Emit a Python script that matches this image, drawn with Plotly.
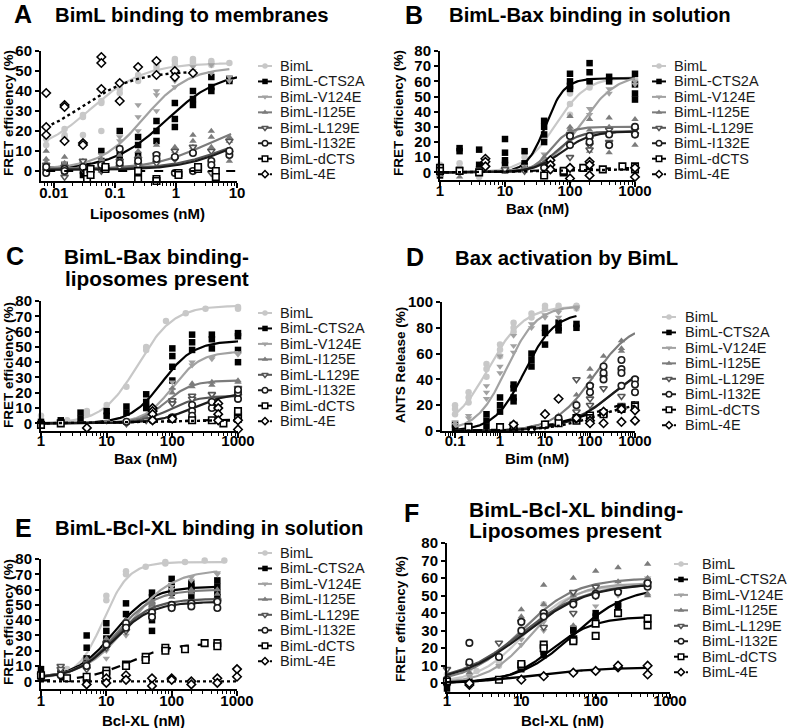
import numpy as np
import plotly.graph_objects as go

W, H = 791, 728
FONT = "Liberation Sans"

SERIES = ["BimL", "BimL-CTS2A", "BimL-V124E", "BimL-I125E",
          "BimL-L129E", "BimL-I132E", "BimL-dCTS", "BimL-4E"]

# ---------------- data ----------------
# points: series -> list of (concentration, [replicate values])
# fits:   series -> (bottom, top, EC50, hill, xmin, xmax)  (fitted curve parameters)

A_points = {
    "BimL": [(0.0075, [16, 18, 13]), (0.015, [21, 18, 17]), (0.03, [28, 18, 27]), (0.06, [35, 20, 34]),
             (0.12, [43, 41, 39]), (0.24, [47, 48, 45]), (0.48, [54, 52, 50]), (0.96, [56, 55, 53]),
             (1.9, [56, 55, 54]), (3.8, [55, 54, 53]), (7.5, [54])],
    "BimL-CTS2A": [(0.0075, [2, 1]), (0.015, [3, 1, 0]), (0.03, [0, -2, 4]), (0.06, [10, 5, 2]),
                   (0.12, [20, 8, 5]), (0.24, [17, 13, 8]), (0.48, [25, 20, 15]), (0.96, [34, 26, 22]),
                   (1.9, [40, 36, 33]), (3.8, [47, 42, 40]), (7.5, [46, 45])],
    "BimL-V124E": [(0.0075, [5, 2]), (0.015, [4, 1]), (0.03, [2, 3]), (0.06, [8, 5]), (0.12, [15, 17, 12]),
                   (0.24, [33, 27, 20]), (0.48, [40, 38, 30]), (0.96, [45, 47, 42]), (1.9, [52, 50, 48]),
                   (3.8, [53, 49]), (7.5, [45, 47])],
    "BimL-I125E": [(0.0075, [10, 6, 4]), (0.015, [7, 4]), (0.03, [5, 1]), (0.06, [6, 0]), (0.12, [12, 8, 5]),
                   (0.24, [10, 7]), (0.48, [13, 8, 5]), (0.96, [12, 10, 7]), (1.9, [18, 15, 12]),
                   (3.8, [20, 17, 12]), (7.5, [17, 15, 5])],
    "BimL-L129E": [(0.0075, [3, 0]), (0.015, [2, -3]), (0.03, [5, 1]), (0.06, [3, 0]), (0.12, [5, 2]),
                   (0.24, [6, 3]), (0.48, [8, 4]), (0.96, [10, 6]), (1.9, [12, 0]), (3.8, [10, -1]),
                   (7.5, [9, 15])],
    "BimL-I132E": [(0.0075, [-1, 2]), (0.015, [1, 0]), (0.03, [2]), (0.06, [3]), (0.12, [11, 4]),
                   (0.24, [5]), (0.48, [8, 6]), (0.96, [-1, 7]), (1.9, [0, 9]), (3.8, [5, 3]), (7.5, [8, 10])],
    "BimL-dCTS": [(0.035, [-1, -4]), (0.04, [1, -2]), (0.07, [1, 2]), (0.24, [0, -4]), (0.48, [-4, -5]),
                  (1.1, [-1, -2]), (2.3, [1, 2]), (4.5, [0, -3])],
    "BimL-4E": [(0.0075, [39, 22, 18]), (0.015, [33, 32, 15]), (0.03, [14, 13]), (0.06, [57, 54, 41]),
                (0.12, [44, 35]), (0.24, [52]), (0.48, [55, 48]), (0.96, [50, 47]), (1.9, [49])],
}
A_fits = {
    "BimL": (8, 54, 0.04, 1.0, 0.0075, 7.5),
    "BimL-CTS2A": (1, 50, 0.7, 1.0, 0.0075, 10),
    "BimL-V124E": (1, 52, 0.3, 1.2, 0.0075, 7.5),
    "BimL-I125E": (1, 25, 3, 1.0, 0.0075, 8),
    "BimL-L129E": (1, 20, 6, 1.0, 0.0075, 8),
    "BimL-I132E": (0.5, 22, 8, 1.0, 0.0075, 8),
    "BimL-dCTS": (0, 0, 1, 1.0, 0.0075, 10),
    "BimL-4E": (15, 50, 0.03, 1.0, 0.0075, 1.9),
}

B_points = {
    "BimL": [(1, [5, 2]), (2, [6, 3, 1]), (4, [4, 1, -3]), (10, [8, 3]), (20, [13, 10]), (40, [25, 22]),
             (100, [52, 45, 38]), (200, [60, 56]), (400, [62, 60]), (1000, [62, 60])],
    "BimL-CTS2A": [(1, [3, 0, -2]), (2, [16, 14]), (4, [15, 5, 2]), (10, [22, 13, 8, 5]), (20, [14, 6, 4]),
                   (40, [34, 30, 25, 20]), (100, [65, 60, 57, 55]), (200, [72, 66, 60]), (400, [63, 60]),
                   (1000, [65, 58, 52, 48])],
    "BimL-V124E": [(1, [2, 0]), (2, [3]), (4, [2]), (10, [3]), (20, [4]), (40, [12, 8]), (100, [28, 25]),
                   (200, [42, 38]), (400, [55, 52]), (1000, [60, 58])],
    "BimL-I125E": [(1, [1, -2]), (2, [0, -3]), (4, [1]), (10, [2, 0]), (20, [3, 1]), (40, [10, 6, 4]),
                   (100, [37, 30, 28]), (200, [35, 28, 14]), (400, [36, 30, 13]), (1000, [35, 30, 18])],
    "BimL-L129E": [(10, [2]), (20, [1]), (40, [5]), (100, [10, 25]), (200, [18, 15, 22]), (400, [20, 28]),
                   (1000, [28, 25])],
    "BimL-I132E": [(40, [3]), (100, [18, 24]), (200, [24, 20]), (400, [18, 25]), (1000, [25, 30])],
    "BimL-dCTS": [(1, [3, 1]), (2, [1]), (4, [0]), (40, [-2]), (80, [0, 1]), (160, [3]), (320, [2]),
                  (640, [4]), (1000, [4, 2])],
    "BimL-4E": [(5, [9, 7, 4]), (50, [8, 5, 2]), (100, [3, -4]), (200, [7, 5, -2]), (1000, [3, -3])],
}
B_fits = {
    "BimL": (0, 63, 60, 1.8, 1, 1000),
    "BimL-CTS2A": (0, 62, 42, 3.0, 1, 1000),
    "BimL-V124E": (0, 65, 150, 1.6, 1, 1000),
    "BimL-I125E": (0, 30, 50, 3.0, 1, 1000),
    "BimL-L129E": (0, 27, 60, 2.5, 1, 1000),
    "BimL-I132E": (0, 27, 75, 2.0, 1, 1000),
    "BimL-dCTS": (0, 3, 50, 1.0, 1, 1000),
    "BimL-4E": (0, 2, 30, 1.0, 1, 1000),
}

C_points = {
    "BimL": [(1, [5]), (2, [2]), (2.5, [2]), (5, [8, 6]), (10, [12]), (20, [24]), (40, [50, 48]),
             (80, [67]), (160, [72]), (320, [75]), (1000, [76, 75])],
    "BimL-CTS2A": [(1, [1, -1]), (2, [2]), (4, [7, 3]), (10, [8, 5]), (20, [11, 7]), (40, [19, 14, 10]),
                   (100, [49, 44, 37, 28]), (200, [58, 53, 48]), (400, [58, 55, 49]), (1000, [59, 57, 48, 40])],
    "BimL-V124E": [(1, [0]), (10, [1]), (40, [3]), (100, [27, 22]), (200, [38, 40]), (400, [43, 42]),
                   (1000, [45, 46])],
    "BimL-I125E": [(2, [0]), (20, [0]), (40, [4]), (100, [23, 20]), (200, [26, 24]), (400, [27, 25]),
                   (1000, [28, 27])],
    "BimL-L129E": [(20, [0]), (40, [2]), (100, [15, 13]), (200, [18, 16]), (400, [19, 14]), (1000, [23, 18])],
    "BimL-I132E": [(20, [1]), (50, [2]), (100, [3, 4]), (200, [12, 8, 5]), (400, [10, 14]),
                   (1000, [16, 20, 22])],
    "BimL-dCTS": [(1, [-1]), (2, [0]), (100, [3]), (200, [2]), (400, [2]), (600, [0]), (1000, [5, 8, 3])],
    "BimL-4E": [(5, [-3]), (50, [10, 8, 6, 2]), (100, [3]), (500, [13, 10, 6, 2]), (1000, [-4, 2])],
}
C_fits = {
    "BimL": (0, 77, 30, 1.6, 1, 1000),
    "BimL-CTS2A": (0, 54, 70, 1.8, 1, 1000),
    "BimL-V124E": (0, 47, 100, 2.0, 1, 1000),
    "BimL-I125E": (0, 28, 80, 2.2, 1, 1000),
    "BimL-L129E": (0, 18, 90, 2.0, 1, 1000),
    "BimL-I132E": (0, 20, 200, 1.6, 1, 1000),
    "BimL-dCTS": (0, 2.5, 50, 1.0, 1, 1000),
    "BimL-4E": (0, 2, 40, 1.0, 1, 1000),
}

D_points = {
    "BimL": [(0.1, [20, 17, 13]), (0.2, [30, 26, 22]), (0.5, [52, 48, 42]), (1, [67, 63, 58]),
             (2, [84, 80, 77]), (5, [91, 88]), (10, [97, 95]), (20, [97, 95]), (50, [97, 95])],
    "BimL-CTS2A": [(0.1, [5, 2]), (0.2, [4, 2]), (0.5, [13, 8, 3]), (1, [26, 20, 15]), (2, [36, 33, 26, 23]),
                   (5, [60, 55, 50]), (10, [80, 76, 67]), (20, [84, 80, 78]), (50, [83, 80])],
    "BimL-V124E": [(0.1, [7, 5]), (0.2, [12, 10]), (0.5, [35, 30, 25]), (1, [58, 50, 45]), (2, [74, 66, 61]),
                   (5, [83, 80]), (10, [90, 88]), (20, [92, 88]), (50, [96, 95])],
    "BimL-I125E": [(0.2, [0]), (1, [1]), (5, [2]), (10, [5, 3]), (20, [12, 10]), (50, [28, 22]),
                   (100, [48, 42, 35]), (200, [58, 52, 45]), (500, [70, 64, 62])],
    "BimL-L129E": [(5, [2]), (10, [4]), (20, [8]), (50, [40, 15]), (100, [35, 25, 20]), (200, [42, 33]),
                   (500, [27, 20]), (1000, [40])],
    "BimL-I132E": [(5, [1]), (10, [5]), (20, [10]), (50, [20]), (100, [35, 30]), (200, [50, 45, 40]),
                   (500, [55, 48, 45, 35]), (1000, [40, 36, 30])],
    "BimL-dCTS": [(0.2, [3]), (1, [3]), (2, [4]), (10, [5]), (20, [6]), (50, [8, 10]), (100, [12, 10]),
                  (200, [14, 13]), (500, [18, 17]), (1000, [20, 19])],
    "BimL-4E": [(2, [5]), (10, [13]), (20, [25]), (50, [10]), (100, [8, 6]), (200, [15, 6]), (500, [17, 7]),
                (1000, [8, 16])],
}
D_fits = {
    "BimL": (0, 97, 0.55, 1.1, 0.1, 50),
    "BimL-CTS2A": (0, 92, 3.5, 1.3, 0.1, 50),
    "BimL-V124E": (0, 97, 1.4, 1.3, 0.1, 50),
    "BimL-I125E": (0, 85, 120, 1.0, 0.1, 1000),
    "BimL-L129E": (0, 60, 350, 0.8, 0.1, 1000),
    "BimL-I132E": (0, 58, 320, 0.85, 0.1, 1000),
    "BimL-dCTS": (0, 26, 90, 0.75, 0.1, 1000),
    "BimL-4E": (0, 24, 150, 0.8, 0.1, 1000),
}

E_points = {
    "BimL": [(1, [5, 3]), (2.5, [8, 6]), (5, [15, 12]), (10, [56, 53]), (20, [72, 70]), (40, [75]),
             (80, [78, 77]), (160, [78]), (320, [79]), (640, [79])],
    "BimL-CTS2A": [(1, [8, 3]), (2, [7, 5]), (5, [30, 22, 15]), (10, [38, 33, 28]), (20, [51, 44, 36]),
                   (50, [58, 55, 50, 40, 33]), (100, [67, 62, 58]), (200, [64, 62, 60, 56]),
                   (500, [66, 62, 58, 55])],
    "BimL-V124E": [(1, [4]), (2, [5]), (5, [10, 8]), (10, [20, 15]), (20, [30, 35]), (50, [50, 48]),
                   (100, [62, 60]), (200, [68, 66]), (500, [71, 70])],
    "BimL-I125E": [(1, [5]), (2, [6]), (5, [15, 12]), (10, [28, 25]), (20, [40, 38]), (50, [52, 50]),
                   (100, [58, 55]), (200, [60, 58]), (500, [60, 57])],
    "BimL-L129E": [(1, [4]), (2, [10, 8]), (5, [12, 8]), (10, [25, 22]), (20, [35, 33]), (50, [46, 44]),
                   (100, [50, 48]), (200, [52, 50]), (500, [53, 52])],
    "BimL-I132E": [(1, [3]), (2, [4]), (5, [10, 0]), (10, [24]), (20, [38, 35]), (50, [45, 42]),
                   (100, [50, 48]), (200, [51, 49]), (500, [52, 48])],
    "BimL-dCTS": [(1, [4]), (2.5, [2]), (5, [3]), (10, [7, 5]), (20, [11, 10]), (40, [16, 14]),
                  (80, [22, 20]), (160, [21]), (320, [25]), (500, [25, 23])],
    "BimL-4E": [(5, [-2]), (10, [2, -1]), (20, [4, 1]), (50, [2, -3]), (100, [2, 1]), (200, [0, -2]),
                (500, [2, -1]), (1000, [8, 3])],
}
E_fits = {
    "BimL": (2, 78, 9, 2.2, 1, 640),
    "BimL-CTS2A": (2, 62, 13, 1.5, 1, 500),
    "BimL-V124E": (2, 73, 22, 1.3, 1, 500),
    "BimL-I125E": (2, 60, 14, 1.5, 1, 500),
    "BimL-L129E": (2, 54, 13, 1.5, 1, 500),
    "BimL-I132E": (2, 52, 13, 1.5, 1, 500),
    "BimL-dCTS": (0, 25, 22, 1.3, 1, 500),
    "BimL-4E": (0, 0, 1, 1.0, 1, 1000),
}

F_points = {
    "BimL": [(1, [5, 2]), (2, [8, 5]), (2.5, [7]), (5, [12, 10]), (10, [35, 30]), (20, [45, 40]),
             (50, [50, 48]), (100, [50, 52]), (200, [52, 55]), (500, [56, 55])],
    "BimL-CTS2A": [(1, [-3, 0]), (2, [1]), (5, [2]), (10, [8, 10]), (20, [18, 16]), (50, [30, 31]),
                   (100, [38, 40]), (200, [44, 45]), (500, [56, 58])],
    "BimL-V124E": [(1, [3]), (2, [4]), (5, [10]), (10, [22, 25]), (20, [30, 35]), (50, [50, 44]),
                   (100, [44, 55]), (200, [50, 58]), (500, [56, 60])],
    "BimL-I125E": [(1, [3]), (2, [6]), (5, [15]), (10, [42, 38]), (20, [56, 45]), (50, [60, 50, 33]),
                   (100, [64, 55]), (200, [66, 58]), (500, [68, 60, 51, 50])],
    "BimL-L129E": [(1, [8]), (2, [10]), (5, [23]), (10, [35]), (20, [32, 40]), (50, [40, 52]),
                   (100, [50, 55]), (200, [52]), (500, [57])],
    "BimL-I132E": [(1, [2]), (2, [23, 12]), (5, [15]), (10, [35, 30]), (20, [40, 38]), (50, [46, 45]),
                   (100, [51, 50]), (200, [52]), (500, [55, 57])],
    "BimL-dCTS": [(1, [1]), (5, [2]), (10, [10, 11]), (20, [22, 20]), (50, [25, 24]), (100, [34, 27]),
                  (200, [40]), (500, [37, 33])],
    "BimL-4E": [(2, [-1, 0]), (10, [2]), (20, [4]), (50, [6]), (100, [7]), (200, [9, 10]), (500, [10, 5])],
}
F_fits = {
    "BimL": (0, 56, 11, 1.4, 1, 500),
    "BimL-CTS2A": (0, 55, 50, 1.2, 1, 500),
    "BimL-V124E": (0, 57, 14, 1.5, 1, 500),
    "BimL-I125E": (0, 60, 10, 1.2, 1, 500),
    "BimL-L129E": (0, 57, 10, 1.0, 1, 500),
    "BimL-I132E": (0, 57, 11, 1.0, 1, 500),
    "BimL-dCTS": (0, 38, 25, 1.5, 1, 500),
    "BimL-4E": (0, 9, 15, 1.0, 1, 500),
}

# ---------------- styles ----------------
COLOR = {"BimL": "#c8c8c8", "BimL-CTS2A": "#000000", "BimL-V124E": "#a2a2a2", "BimL-I125E": "#7c7c7c",
         "BimL-L129E": "#555555", "BimL-I132E": "#1c1c1c", "BimL-dCTS": "#000000", "BimL-4E": "#000000"}
SYMBOL = {"BimL": "circle", "BimL-CTS2A": "square", "BimL-V124E": "triangle-down",
          "BimL-I125E": "triangle-up", "BimL-L129E": "triangle-down", "BimL-I132E": "circle",
          "BimL-dCTS": "square", "BimL-4E": "diamond"}
OPEN = {"BimL-L129E", "BimL-I132E", "BimL-dCTS", "BimL-4E"}


def hill(x, b, t, ec, h):
    return b + (t - b) / (1.0 + (ec / x) ** h)


# panel geometry in pixels: left, right, top, bottom
PANELS = [
    dict(pts=A_points, fits=A_fits, box=(41, 237, 51, 181), xr=(-2.21, 1.0), yr=(-5, 60), dy=10, so=-8,
         xt=[0.01, 0.1, 1, 10], xl=["0.01", "0.1", "1", "10"], dash={"BimL-dCTS": "dash", "BimL-4E": "dot"},
         letter=("A", 23, 14), tsize=20.3, title=[("BimL binding to membranes", 53, 15)],
         xtitle=("Liposomes (nM)", 147, 213), ytitle=("FRET efficiency (%)", 8, 113),
         leg=(265, 278, 66)),
    dict(pts=B_points, fits=B_fits, box=(440, 635, 51, 180), xr=(0, 3), yr=(-5, 80), dy=10, so=-9,
         xt=[1, 10, 100, 1000], xl=["1", "10", "100", "1000"], dash={"BimL-dCTS": "dash", "BimL-4E": "dot"},
         letter=("B", 414, 15), tsize=20.3, title=[("BimL-Bax binding in solution", 447, 15)],
         xtitle=("Bax (nM)", 537, 209), ytitle=("FRET efficiency (%)", 398, 113),
         leg=(659, 672, 66)),
    dict(pts=C_points, fits=C_fits, box=(41, 238, 301, 431), xr=(0, 3), yr=(-5, 80), dy=10, so=-10,
         xt=[1, 10, 100, 1000], xl=["1", "10", "100", "1000"], dash={"BimL-dCTS": "dash", "BimL-4E": "dot"},
         letter=("C", 15, 256), tsize=20.8, title=[("BimL-Bax binding-", 62, 256), ("liposomes present", 63, 278)],
         xtitle=("Bax (nM)", 145, 458), ytitle=("FRET efficiency (%)", 8, 365),
         leg=(265, 278, 313)),
    dict(pts=D_points, fits=D_fits, box=(442, 635, 302, 431), xr=(-1.29, 3), yr=(0, 100), dy=20, so=-10,
         xt=[0.1, 1, 10, 100, 1000], xl=["0.1", "1", "10", "100", "1000"],
         dash={"BimL-dCTS": "dash", "BimL-4E": "dot"},
         letter=("D", 415, 257), tsize=20.3, title=[("Bax activation by BimL", 453, 258)],
         xtitle=("Bim (nM)", 537, 458), ytitle=("ANTS Release (%)", 400, 365),
         leg=(669, 683, 317)),
    dict(pts=E_points, fits=E_fits, box=(41, 237, 559, 689), xr=(0, 3), yr=(-5, 80), dy=10, so=-8,
         xt=[1, 10, 100, 1000], xl=["1", "10", "100", "1000"], dash={"BimL-dCTS": "dash", "BimL-4E": "dot"},
         letter=("E", 23, 528), tsize=20.3, title=[("BimL-Bcl-XL binding in solution", 53, 528)],
         xtitle=("Bcl-XL (nM)", 143, 720), ytitle=("FRET efficiency (%)", 8, 622),
         leg=(265, 278, 553)),
    dict(pts=F_points, fits=F_fits, box=(447, 670, 543, 692), xr=(0, 3), yr=(-5, 80), dy=10, so=-11,
         xt=[1, 10, 100, 1000], xl=["1", "10", "100", "1000"], dash={},
         letter=("F", 411, 513), tsize=21,
         title=[("BimL-Bcl-XL binding-", 467, 510), ("Liposomes present", 467, 530)],
         xtitle=("Bcl-XL (nM)", 562, 720), ytitle=("FRET efficiency (%)", 400, 619),
         leg=(681, 700, 564)),
]
LEG_GAP = 15.45

fig = go.Figure()
layout = dict(width=W, height=H, margin=dict(l=0, r=0, t=0, b=0), template="none",
              paper_bgcolor="white", plot_bgcolor="rgba(0,0,0,0)", showlegend=False,
              font=dict(family=FONT, color="black"))
annotations = []


def px(x):
    return x / W


def py(y):
    return 1 - y / H


for i, p in enumerate(PANELS, start=1):
    xa, ya = f"x{i}", f"y{i}"
    l, r, t, b = p["box"]
    minor_vals = [k * 10.0 ** d for d in range(-3, 4) for k in range(2, 10)
                  if p["xr"][0] <= np.log10(k * 10.0 ** d) <= p["xr"][1]]
    layout[f"xaxis{i}"] = dict(
        type="log", range=list(p["xr"]), domain=[px(l), px(r)], anchor=ya,
        showline=True, linecolor="black", linewidth=2, showgrid=False, zeroline=False,
        ticks="outside", ticklen=5, tickwidth=2, tickcolor="black",
        tickmode="array", tickvals=p["xt"], ticktext=p["xl"], ticklabelstandoff=p["so"],
        tickfont=dict(family=FONT, size=15, weight="bold"),
        minor=dict(ticks="outside", ticklen=3, tickwidth=1.2, tickcolor="black",
                   tickmode="array", tickvals=minor_vals, showgrid=False),
        fixedrange=True)
    layout[f"yaxis{i}"] = dict(
        range=list(p["yr"]), domain=[py(b), py(t)], anchor=xa,
        showline=True, linecolor="black", linewidth=2, showgrid=False, zeroline=False,
        ticks="outside", ticklen=4, tickwidth=2, tickcolor="black", tick0=0, dtick=p["dy"],
        tickfont=dict(family=FONT, size=15, weight="bold"), fixedrange=True)

    for s in SERIES:
        bb, tt, ec, hh, x0, x1 = p["fits"][s]
        xc = np.logspace(np.log10(x0), np.log10(x1), 150)
        fig.add_trace(go.Scatter(
            x=xc, y=hill(xc, bb, tt, ec, hh), mode="lines", xaxis=xa, yaxis=ya,
            line=dict(color=COLOR[s], width=2.2 if s != "BimL-4E" else 2.4,
                      dash=p["dash"].get(s, "solid")),
            hoverinfo="skip", cliponaxis=True))
        xs, ys = [], []
        for c, reps in p["pts"][s]:
            for v in reps:
                xs.append(c)
                ys.append(v)
        if s in OPEN:
            mk = dict(symbol=SYMBOL[s], size=6.5, color="white", line=dict(color=COLOR[s], width=1.6))
        else:
            mk = dict(symbol=SYMBOL[s], size=6.5, color=COLOR[s], line=dict(width=0))
        fig.add_trace(go.Scatter(x=xs, y=ys, mode="markers", xaxis=xa, yaxis=ya, marker=mk,
                                 name=s, cliponaxis=False))

    # panel letter, titles, axis titles
    L, lx, ly = p["letter"]
    annotations.append(dict(text=L, x=px(lx), y=py(ly), xref="paper", yref="paper",
                            xanchor="center", yanchor="middle", showarrow=False,
                            font=dict(family=FONT, size=25, weight="bold")))
    for txt, tx, ty in p["title"]:
        annotations.append(dict(text=txt, x=px(tx), y=py(ty), xref="paper", yref="paper",
                                xanchor="left", yanchor="middle", showarrow=False,
                                font=dict(family=FONT, size=p["tsize"], weight="bold")))
    txt, tx, ty = p["xtitle"]
    annotations.append(dict(text=txt, x=px(tx), y=py(ty), xref="paper", yref="paper",
                            xanchor="center", yanchor="middle", showarrow=False,
                            font=dict(family=FONT, size=15, weight="bold")))
    txt, tx, ty = p["ytitle"]
    annotations.append(dict(text=txt, x=px(tx), y=py(ty), xref="paper", yref="paper",
                            xanchor="center", yanchor="middle", showarrow=False, textangle=-90,
                            font=dict(family=FONT, size=13.5, weight="bold")))

    # legend (drawn on an overlay pixel axis)
    mx, tx, ty0 = p["leg"]
    for k, s in enumerate(SERIES):
        ry = ty0 + k * LEG_GAP
        fig.add_trace(go.Scatter(x=[mx - 7, mx + 7], y=[ry, ry], mode="lines", xaxis="x7", yaxis="y7",
                                 line=dict(color=COLOR[s], width=2,
                                           dash="dot" if s == "BimL-4E" else "solid"),
                                 hoverinfo="skip"))
        if s in OPEN:
            mk = dict(symbol=SYMBOL[s], size=5.5, color="white", line=dict(color=COLOR[s], width=1.5))
        else:
            mk = dict(symbol=SYMBOL[s], size=5.5, color=COLOR[s], line=dict(width=0))
        fig.add_trace(go.Scatter(x=[mx], y=[ry], mode="markers", xaxis="x7", yaxis="y7", marker=mk,
                                 hoverinfo="skip"))
        annotations.append(dict(text=s, x=px(tx), y=py(ry), xref="paper", yref="paper",
                                xanchor="left", yanchor="middle", showarrow=False,
                                font=dict(family=FONT, size=14.5, color="#1a1a1a")))

layout["xaxis7"] = dict(range=[0, W], domain=[0, 1], visible=False, fixedrange=True, anchor="y7")
layout["yaxis7"] = dict(range=[H, 0], domain=[0, 1], visible=False, fixedrange=True, anchor="x7")
layout["annotations"] = annotations
fig.update_layout(**layout)
fig.write_html("out.html", config={"displayModeBar": False},
               post_script="document.body.style.margin='0';document.body.style.padding='0';")
